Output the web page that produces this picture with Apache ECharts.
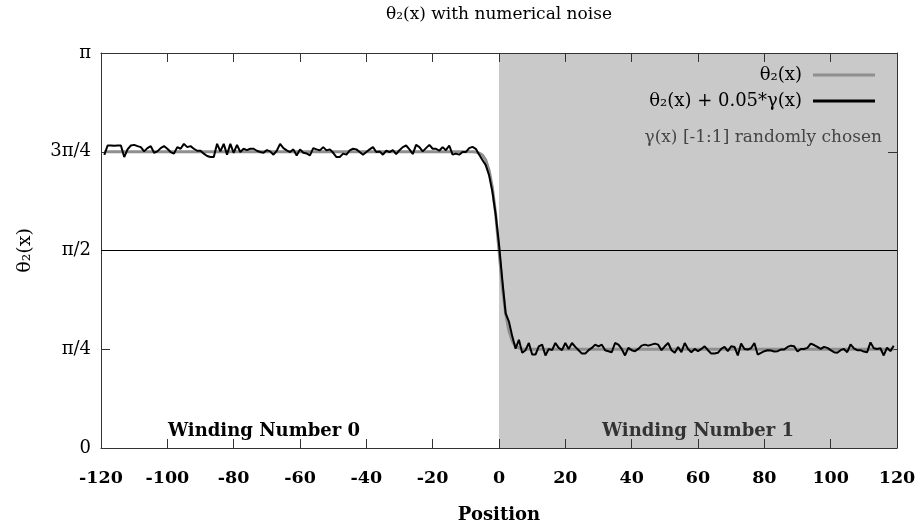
<!DOCTYPE html>
<html><head><meta charset="utf-8">
<script src="https://cdn.jsdelivr.net/npm/echarts@6/dist/echarts.min.js"></script>
<style>html,body{margin:0;padding:0;background:#fff}#c{width:921px;height:529px}</style>
</head><body><div id="c"></div>
<script>
const titleText = 'θ₂(x) with numerical noise';
const xAxisName = 'Position';
const yAxisName = 'θ₂(x)';
const yTickLabels = ['0', 'π/4', 'π/2', '3π/4', 'π'];
const seriesNames = ['θ₂(x)', 'θ₂(x) + 0.05*γ(x)'];
const noteText = 'γ(x) [-1:1] randomly chosen';
const regionLabels = ['Winding Number 0', 'Winding Number 1'];
const regionBounds = [[-120, 0], [0, 120]];

// smooth profile θ2(x)
const smoothX = [-119, -8, -7, -6, -5, -4, -3, -2, -1, 0, 1, 2, 3, 4, 5, 6, 7, 8, 119];
const smoothY = [2.356, 2.356, 2.354, 2.345, 2.33, 2.29, 2.21, 2.07, 1.86, 1.571, 1.28, 1.07, 0.93, 0.85, 0.81, 0.795, 0.788, 0.786, 0.786];

// noisy profile, positions -119 .. 119 step 1
const noisyStart = -119;
const noisyY = [
  2.332, 2.406, 2.406, 2.403, 2.406, 2.406, 2.314, 2.375, 2.406, 2.411,   // -119..-110
  2.401, 2.393, 2.359, 2.385, 2.401, 2.348, 2.359, 2.385, 2.401, 2.380,   // -109..-100
  2.354, 2.341, 2.393, 2.380, 2.419, 2.393, 2.401, 2.380, 2.364, 2.364,   // -99..-90
  2.341, 2.322, 2.314, 2.314, 2.419, 2.359, 2.419, 2.333, 2.419, 2.348,   // -89..-80
  2.411, 2.354, 2.380, 2.369, 2.380, 2.380, 2.364, 2.354, 2.348, 2.369,   // -79..-70
  2.359, 2.333, 2.364, 2.419, 2.385, 2.367, 2.354, 2.375, 2.327, 2.375,   // -69..-60
  2.348, 2.343, 2.327, 2.385, 2.375, 2.367, 2.393, 2.367, 2.375, 2.348,   // -59..-50
  2.314, 2.314, 2.341, 2.333, 2.367, 2.380, 2.375, 2.354, 2.333, 2.354,   // -49..-40
  2.375, 2.393, 2.354, 2.359, 2.333, 2.364, 2.354, 2.369, 2.338, 2.369,   // -39..-30
  2.393, 2.406, 2.375, 2.338, 2.411, 2.393, 2.359, 2.385, 2.411, 2.380,   // -29..-20
  2.380, 2.364, 2.393, 2.369, 2.406, 2.333, 2.341, 2.333, 2.354, 2.354,   // -19..-10
  2.385, 2.395, 2.380, 2.335, 2.29, 2.25, 2.17, 2.04, 1.856, 1.62,        // -9..0
  1.335, 1.07, 1.005, 0.888, 0.79, 0.861, 0.757, 0.778, 0.835, 0.743,     // 1..10
  0.743, 0.809, 0.822, 0.736, 0.788, 0.778, 0.835, 0.796, 0.778, 0.835,   // 11..20
  0.788, 0.835, 0.804, 0.778, 0.751, 0.751, 0.778, 0.796, 0.822, 0.809,   // 21..30
  0.822, 0.778, 0.770, 0.762, 0.835, 0.822, 0.788, 0.736, 0.796, 0.778,   // 31..40
  0.770, 0.788, 0.814, 0.822, 0.814, 0.822, 0.830, 0.822, 0.778, 0.809,   // 41..50
  0.835, 0.778, 0.757, 0.804, 0.762, 0.835, 0.788, 0.762, 0.788, 0.770,   // 51..60
  0.788, 0.809, 0.778, 0.751, 0.751, 0.757, 0.788, 0.804, 0.770, 0.809,   // 61..70
  0.804, 0.736, 0.830, 0.788, 0.783, 0.793, 0.835, 0.743, 0.757, 0.770,   // 71..80
  0.778, 0.775, 0.767, 0.770, 0.783, 0.783, 0.804, 0.814, 0.809, 0.767,   // 81..90
  0.788, 0.788, 0.796, 0.830, 0.819, 0.804, 0.788, 0.804, 0.796, 0.778,   // 91..100
  0.762, 0.757, 0.778, 0.788, 0.762, 0.825, 0.793, 0.778, 0.778, 0.767,   // 101..110
  0.762, 0.840, 0.793, 0.788, 0.793, 0.736, 0.798, 0.770, 0.814          // 111..119
];

const SERIF = '"DejaVu Serif", "Liberation Serif", serif';
const smoothData = smoothX.map((x, i) => [x, smoothY[i]]);
const noisyData = noisyY.map((y, i) => [noisyStart + i, y]);
const QP = Math.PI / 4;
const yFmt = v => yTickLabels[Math.round(v / QP)] || '';

const chart = echarts.init(document.getElementById('c'), null, {renderer: 'canvas'});
const axisLineStyle = {color: '#333', width: 1};
chart.setOption({
  animation: false,
  backgroundColor: '#fff',
  title: {
    text: titleText, left: 499, textAlign: 'center', top: 6, padding: 0,
    textStyle: {fontFamily: SERIF, fontSize: 17, fontWeight: 'normal', color: '#000'}
  },
  grid: {left: 101, right: 24, top: 53, bottom: 76},
  legend: {
    data: seriesNames, orient: 'vertical', align: 'right', right: 46, top: 65, padding: 0,
    itemGap: 6, itemWidth: 62, itemHeight: 3, icon: 'rect',
    textStyle: {fontFamily: SERIF, fontSize: 18, color: '#000', lineHeight: 20, padding: [0, 6, 0, 0]}
  },
  graphic: [{
    type: 'text', right: 39, top: 129, z: 100,
    style: {text: noteText, font: '17px ' + SERIF, fill: '#444'}
  }],
  xAxis: [{
    type: 'value', min: -120, max: 120, interval: 20, position: 'bottom', z: 3,
    name: xAxisName, nameLocation: 'middle', nameGap: 58,
    nameTextStyle: {fontFamily: SERIF, fontSize: 18, fontWeight: 'bold', color: '#000'},
    axisLine: {show: true, onZero: false, lineStyle: axisLineStyle},
    axisTick: {show: true, inside: true, length: 9, lineStyle: axisLineStyle},
    axisLabel: {fontFamily: SERIF, fontSize: 17.5, fontWeight: 'bold', color: '#000', margin: 21},
    splitLine: {show: false}
  }, {
    type: 'value', min: -120, max: 120, interval: 20, position: 'top', z: 3,
    axisLine: {show: true, onZero: false, lineStyle: axisLineStyle},
    axisTick: {show: true, inside: true, length: 9, lineStyle: axisLineStyle},
    axisLabel: {show: false}, splitLine: {show: false}
  }],
  yAxis: [{
    type: 'value', min: 0, max: Math.PI, interval: QP, position: 'left', z: 3,
    name: yAxisName, nameLocation: 'middle', nameGap: 66, nameRotate: 90,
    nameTextStyle: {fontFamily: SERIF, fontSize: 19, color: '#000'},
    axisLine: {show: true, onZero: false, lineStyle: axisLineStyle},
    axisTick: {show: true, inside: true, length: 9, lineStyle: axisLineStyle},
    axisLabel: {fontFamily: SERIF, fontSize: 18, color: '#000', margin: 10, formatter: yFmt},
    splitLine: {show: false}
  }, {
    type: 'value', min: 0, max: Math.PI, interval: QP, position: 'right', z: 3,
    axisLine: {show: true, onZero: false, lineStyle: axisLineStyle},
    axisTick: {show: true, inside: true, length: 9, lineStyle: axisLineStyle},
    axisLabel: {show: false}, splitLine: {show: false}
  }],
  series: [{
    name: 'regions', type: 'line', z: 1, silent: true, data: smoothData,
    symbol: 'none', lineStyle: {width: 0, opacity: 0},
    markArea: {
      silent: true,
      data: [
        [{xAxis: regionBounds[0][0], itemStyle: {color: 'rgba(0,0,0,0)'},
          label: {show: true, position: 'insideBottom', distance: 8, offset: [-36, 0], formatter: regionLabels[0],
            fontFamily: SERIF, fontSize: 18, fontWeight: 'bold', color: '#000'}},
         {xAxis: regionBounds[0][1]}],
        [{xAxis: regionBounds[1][0], itemStyle: {color: '#c9c9c9'},
          label: {show: true, position: 'insideBottom', distance: 8, formatter: regionLabels[1],
            fontFamily: SERIF, fontSize: 18, fontWeight: 'bold', color: '#333'}},
         {xAxis: regionBounds[1][1]}]
      ]
    }
  }, {
    name: seriesNames[0], type: 'line', z: 4, data: smoothData, symbol: 'none',
    color: '#8f8f8f', lineStyle: {color: '#8f8f8f', width: 3},
    markLine: {
      silent: true, symbol: 'none', label: {show: false},
      lineStyle: {color: '#000', width: 1, type: 'solid'},
      data: [{yAxis: Math.PI / 2}]
    }
  }, {
    name: seriesNames[1], type: 'line', z: 5, data: noisyData, symbol: 'none',
    color: '#000', lineStyle: {color: '#000', width: 2}
  }]
});
</script></body></html>
